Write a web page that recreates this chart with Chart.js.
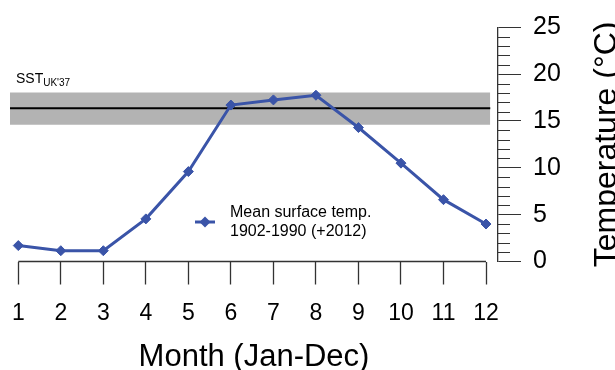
<!DOCTYPE html>
<html>
<head>
<meta charset="utf-8">
<script src="https://cdn.jsdelivr.net/npm/chart.js@4/dist/chart.umd.min.js"></script>
<style>
  html, body { margin: 0; padding: 0; background: #fff; }
  #wrap { width: 615px; height: 370px; }
</style>
</head>
<body>
<div id="wrap"><canvas id="c" width="615" height="370"></canvas></div>
<script>
// Monthly mean sea-surface temperature, 1902-1990 (+2012)
const months = [1, 2, 3, 4, 5, 6, 7, 8, 9, 10, 11, 12];
const meanTemp = [1.7, 1.15, 1.15, 4.55, 9.6, 16.7, 17.25, 17.75, 14.3, 10.5, 6.6, 4.0];

// Temperature axis: labelled ticks and minor ticks
const yLabelTicks = [0, 5, 10, 15, 20, 25];
const yMinorTicks = [1, 2, 3, 4, 6, 7, 8, 9, 11, 12, 13, 14, 16, 17, 18, 19, 21, 22, 23, 24];

// Alkenone-derived SST estimate with its uncertainty range
const sstMean = [16.35];
const sstRange = [14.6, 18.05];
const sstExtent = [0.805, 12.1]; // month span covered by the band

const FONT = "'Liberation Sans', Arial, Helvetica, sans-serif";
const BLUE = '#3a54a8';
const AXIS = '#333333';

const xMin = 0.805, xMax = 12.282;

const span = (y) => [{ x: sstExtent[0], y }, { x: sstExtent[1], y }];

const extras = {
  id: 'extras',
  afterDraw(chart) {
    const ctx = chart.ctx;
    const xs = chart.scales.x, ys = chart.scales.y;
    ctx.save();

    // x-axis baseline between the first and last month
    ctx.strokeStyle = AXIS;
    ctx.lineWidth = 1.3;
    ctx.beginPath();
    ctx.moveTo(xs.getPixelForValue(months[0]), xs.top);
    ctx.lineTo(xs.getPixelForValue(months[months.length - 1]), xs.top);
    ctx.stroke();

    // minor ticks on the temperature axis
    ctx.lineWidth = 1;
    ctx.beginPath();
    yMinorTicks.forEach(v => {
      const py = Math.round(ys.getPixelForValue(v)) + 0.5;
      ctx.moveTo(ys.left, py);
      ctx.lineTo(ys.left + 12, py);
    });
    ctx.stroke();

    // temperature axis title, reading bottom to top
    ctx.fillStyle = '#000';
    ctx.font = `32px ${FONT}`;
    ctx.textAlign = 'center';
    ctx.textBaseline = 'alphabetic';
    ctx.translate(616, (ys.top + ys.bottom) / 2);
    ctx.rotate(-Math.PI / 2);
    ctx.fillText('Temperature (°C)', 0, 0);
    ctx.setTransform(1, 0, 0, 1, 0, 0);

    // SST label with subscript
    ctx.textAlign = 'left';
    ctx.font = `14px ${FONT}`;
    const lx = chart.chartArea.left + 6, ly = 83;
    ctx.fillText('SST', lx, ly);
    const w = ctx.measureText('SST').width;
    ctx.font = `10px ${FONT}`;
    ctx.fillText("UK'37", lx + w, ly + 3);

    // legend
    const mx = 205, my = 222;
    ctx.strokeStyle = BLUE;
    ctx.fillStyle = BLUE;
    ctx.lineWidth = 3;
    ctx.beginPath();
    ctx.moveTo(mx - 10, my);
    ctx.lineTo(mx + 10, my);
    ctx.stroke();
    ctx.beginPath();
    ctx.moveTo(mx - 5.5, my);
    ctx.lineTo(mx, my - 5.5);
    ctx.lineTo(mx + 5.5, my);
    ctx.lineTo(mx, my + 5.5);
    ctx.closePath();
    ctx.fill();
    ctx.fillStyle = '#000';
    ctx.font = `16px ${FONT}`;
    ctx.textBaseline = 'middle';
    ctx.fillText('Mean surface temp.', 230, 213);
    ctx.fillText('1902-1990 (+2012)', 230, 232);

    ctx.restore();
  }
};

new Chart(document.getElementById('c'), {
  type: 'line',
  data: {
    datasets: [
      {
        label: 'SST upper',
        data: span(sstRange[1]),
        borderWidth: 0,
        pointRadius: 0,
        backgroundColor: '#b3b3b3',
        fill: '+1',
        order: 3
      },
      {
        label: 'SST lower',
        data: span(sstRange[0]),
        borderWidth: 0,
        pointRadius: 0,
        fill: false,
        order: 3
      },
      {
        label: 'SST',
        data: span(sstMean[0]),
        borderColor: '#000',
        borderWidth: 2,
        pointRadius: 0,
        fill: false,
        order: 2
      },
      {
        label: 'Mean surface temp. 1902-1990 (+2012)',
        data: months.map((m, i) => ({ x: m, y: meanTemp[i] })),
        borderColor: BLUE,
        backgroundColor: BLUE,
        borderWidth: 3,
        pointStyle: 'rectRot',
        pointRadius: 5,
        pointBorderWidth: 1,
        pointBorderColor: BLUE,
        pointBackgroundColor: BLUE,
        fill: false,
        tension: 0,
        order: 0
      }
    ]
  },
  options: {
    responsive: false,
    animation: false,
    devicePixelRatio: 1,
    layout: { padding: { left: 10, top: 27.3, right: 0, bottom: 0 } },
    plugins: { legend: { display: false }, tooltip: { enabled: false } },
    scales: {
      x: {
        type: 'linear',
        min: xMin,
        max: xMax,
        afterBuildTicks: (s) => { s.ticks = months.map(v => ({ value: v })); },
        afterFit: (s) => { s.height = 108.5; },
        border: { display: false },
        grid: { drawOnChartArea: false, tickLength: 23, color: AXIS, tickWidth: 1.3 },
        ticks: {
          color: '#000',
          font: { family: FONT, size: 23, lineHeight: 2.07 },
          padding: 5,
          maxRotation: 0,
          autoSkip: false,
          callback: (v) => String(v)
        },
        title: {
          display: true,
          text: 'Month (Jan-Dec)',
          color: '#000',
          font: { family: FONT, size: 31, lineHeight: 0.78 },
          padding: 0
        }
      },
      y: {
        type: 'linear',
        position: 'right',
        min: 0,
        max: 25,
        afterBuildTicks: (s) => { s.ticks = yLabelTicks.map(v => ({ value: v })); },
        afterFit: (s) => { s.width = 117; },
        border: { display: true, color: AXIS, width: 1.3 },
        grid: { drawOnChartArea: false, tickLength: 23, color: AXIS, tickWidth: 1 },
        ticks: {
          color: '#000',
          font: { family: FONT, size: 25 },
          padding: 12,
          callback: (v) => String(v)
        }
      }
    }
  },
  plugins: [extras]
});
</script>
</body>
</html>
